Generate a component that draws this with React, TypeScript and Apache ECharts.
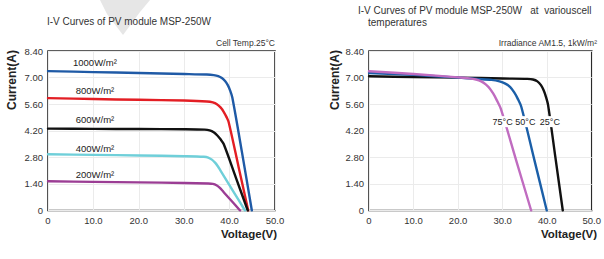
import React, { useEffect, useRef } from "react";
import * as echarts from "echarts";

// Left chart: irradiance curves (Voltage V, Current A)
const irr1000: number[][] = [[0, 7.34], [10, 7.29], [20, 7.24], [30, 7.19], [35, 7.16], [36.5, 7.13], [37.5, 7.08], [38.3, 6.98], [39, 6.82], [39.6, 6.6], [40.1, 6.33], [40.6, 5.95], [42.7, 3.1], [44.9, 0]];
const irr800: number[][] = [[0, 5.92], [10, 5.87], [20, 5.83], [30, 5.79], [35, 5.74], [36.3, 5.69], [37.2, 5.6], [38, 5.43], [38.7, 5.2], [39.3, 4.93], [39.8, 4.65], [42, 2.27], [44.1, 0]];
const irr600: number[][] = [[0, 4.31], [10, 4.3], [20, 4.29], [30, 4.28], [34.5, 4.26], [35.6, 4.22], [36.5, 4.12], [37.3, 3.95], [38, 3.75], [38.7, 3.5], [41.4, 1.72], [44.0, 0]];
const irr400: number[][] = [[0, 2.96], [10, 2.93], [20, 2.9], [30, 2.86], [34.3, 2.83], [35.3, 2.79], [36.1, 2.68], [36.8, 2.52], [37.4, 2.33], [38, 2.1], [40.7, 1.05], [43.4, 0]];
const irr200: number[][] = [[0, 1.54], [10, 1.51], [20, 1.48], [30, 1.45], [35.3, 1.42], [36.3, 1.4], [37.1, 1.33], [37.8, 1.2], [38.4, 1.05], [38.9, 0.91], [40.6, 0.46], [42.3, 0]];
const irrNames = ["1000W/m²", "800W/m²", "600W/m²", "400W/m²", "200W/m²"];
const irrLabelPos: number[][] = [[5.4, 7.77], [6.0, 6.33], [6.0, 4.78], [6.0, 3.28], [6.0, 1.88]];

// Right chart: temperature curves
const temp25: number[][] = [[0, 7.07], [10, 7.03], [20, 7.0], [30, 6.95], [35.5, 6.93], [36.8, 6.9], [37.8, 6.8], [38.6, 6.6], [39.2, 6.33], [39.7, 6.0], [40.2, 5.55], [41.8, 2.86], [43.5, 0]];
const temp50: number[][] = [[0, 7.24], [10, 7.14], [20, 7.0], [24.3, 6.93], [27.5, 6.88], [29.3, 6.8], [30.6, 6.68], [31.7, 6.5], [32.6, 6.22], [33.4, 5.88], [34.2, 5.45], [37.1, 2.68], [39.9, 0]];
const temp75: number[][] = [[0, 7.33], [10, 7.19], [20, 7.01], [22.5, 6.96], [24, 6.9], [25.2, 6.8], [26.2, 6.64], [27.1, 6.43], [27.9, 6.15], [28.7, 5.8], [29.6, 5.35], [33, 2.67], [36.4, 0]];
const tempNames = ["25°C", "50°C", "75°C"];
const tempLabelPos: number[][] = [[40.6, 4.68], [35.1, 4.68], [30.0, 4.68]];

const xTicks = { min: 0, max: 50, interval: 10 };
const yTicks = { min: 0, max: 8.4, interval: 1.4 };

const FONT = "'Liberation Sans', Arial, sans-serif";

export default function App() {
  const ref = useRef<HTMLDivElement>(null);
  useEffect(() => {
    if (!ref.current) return;
    const chart = echarts.init(ref.current, undefined, { renderer: "svg" });
    const axisX = (gi: number) => ({
      type: "value",
      gridIndex: gi,
      min: xTicks.min,
      max: xTicks.max,
      interval: xTicks.interval,
      axisLine: { show: false },
      axisTick: { show: false },
      splitLine: { show: true, lineStyle: { color: "#ebebeb", width: 1 } },
      axisLabel: {
        color: "#333",
        fontSize: 9.5,
        fontFamily: FONT,
        margin: 5,
        formatter: (v: number) => (v === 0 ? "0" : v.toFixed(1)),
      },
    });
    const axisY = (gi: number) => ({
      type: "value",
      gridIndex: gi,
      min: yTicks.min,
      max: yTicks.max,
      interval: yTicks.interval,
      axisLine: { show: false },
      axisTick: { show: false },
      splitLine: { show: true, lineStyle: { color: "#ebebeb", width: 1 } },
      axisLabel: {
        color: "#333",
        fontSize: 9.5,
        fontFamily: FONT,
        margin: 5,
        formatter: (v: number) => (v === 0 ? "0" : v.toFixed(2)),
      },
    });
    const mk = (name: string, data: number[][], color: string, gi: number, label: string, pos: number[], align: "left" | "center") => ({
      type: "line",
      name,
      xAxisIndex: gi,
      yAxisIndex: gi,
      data,
      smooth: 0.3,
      showSymbol: false,
      lineStyle: { color, width: 2.4, join: "round", cap: "round" },
      itemStyle: { color },
      z: 3,
      markPoint: {
        symbol: "circle",
        symbolSize: 1,
        itemStyle: { color: "rgba(0,0,0,0)" },
        silent: true,
        z: 10,
        label: {
          show: true,
          position: align === "left" ? "right" : "inside",
          distance: 0,
          color: "#222",
          fontSize: align === "left" ? 9.5 : 9,
          fontFamily: FONT,
          backgroundColor: align === "left" ? "transparent" : "#fff",
          padding: align === "left" ? 0 : [1, 1],
          formatter: () => label,
        },
        data: [{ coord: pos, value: 0 }],
      },
    });
    const irrData = [irr1000, irr800, irr600, irr400, irr200];
    const irrColors = ["#1f5aa6", "#e31e24", "#111111", "#6fcfd9", "#9b3d94"];
    const tData = [temp25, temp50, temp75];
    const tColors = ["#111111", "#1b5fa8", "#c06cc0"];
    const series: any[] = [];
    irrData.forEach((d, i) => series.push(mk(irrNames[i], d, irrColors[i], 0, irrNames[i], irrLabelPos[i], "left")));
    tData.forEach((d, i) => series.push(mk(tempNames[i], d, tColors[i], 1, tempNames[i], tempLabelPos[i], "center")));

    const txt = (text: string, x: number, y: number, opts: any = {}) => ({
      type: "text",
      x,
      y,
      rotation: opts.rotation || 0,
      z: 20,
      style: {
        text,
        fill: opts.fill || "#333",
        font: opts.font || `10px ${FONT}`,
        textAlign: opts.align || "left",
        textVerticalAlign: "middle",
      },
    });

    chart.setOption({
      animation: false,
      backgroundColor: "#fff",
      grid: [
        { left: 48, top: 51, width: 227, height: 159.5, show: true, borderColor: "#2a2a2a", borderWidth: 1.6, backgroundColor: "transparent" },
        { left: 369, top: 51, width: 228, height: 159.5, show: true, borderColor: "#2a2a2a", borderWidth: 1.6, backgroundColor: "transparent" },
      ],
      xAxis: [axisX(0), axisX(1)],
      yAxis: [axisY(0), axisY(1)],
      series,
      graphic: [
        {
          type: "polygon",
          z: 0,
          shape: { points: [[100, 0], [150, 0], [140, 12], [123, 35], [107, 14]] },
          style: { fill: "#e6e6e6" },
        },
        txt("I-V Curves of PV module MSP-250W", 47, 21),
        txt("I-V Curves of PV module MSP-250W   at  variouscell", 358, 10),
        txt("temperatures", 368, 22),
        txt("Cell Temp.25°C", 275, 43, { align: "right", font: `8.5px ${FONT}` }),
        txt("Irradiance AM1.5, 1kW/m²", 597, 43, { align: "right", font: `8.5px ${FONT}` }),
        txt("Current(A)", 12, 80, { align: "center", rotation: Math.PI / 2, font: `bold 12px ${FONT}`, fill: "#222" }),
        txt("Current(A)", 335, 80, { align: "center", rotation: Math.PI / 2, font: `bold 12px ${FONT}`, fill: "#222" }),
        txt("Voltage(V)", 277, 234, { align: "right", font: `bold 11.5px ${FONT}`, fill: "#222" }),
        txt("Voltage(V)", 597, 234, { align: "right", font: `bold 11.5px ${FONT}`, fill: "#222" }),
      ],
    } as any);
    return () => chart.dispose();
  }, []);
  return (
    <div
      ref={ref}
      style={{ position: "absolute", left: 0, top: 0, width: 604, height: 259, background: "#fff" }}
    />
  );
}
